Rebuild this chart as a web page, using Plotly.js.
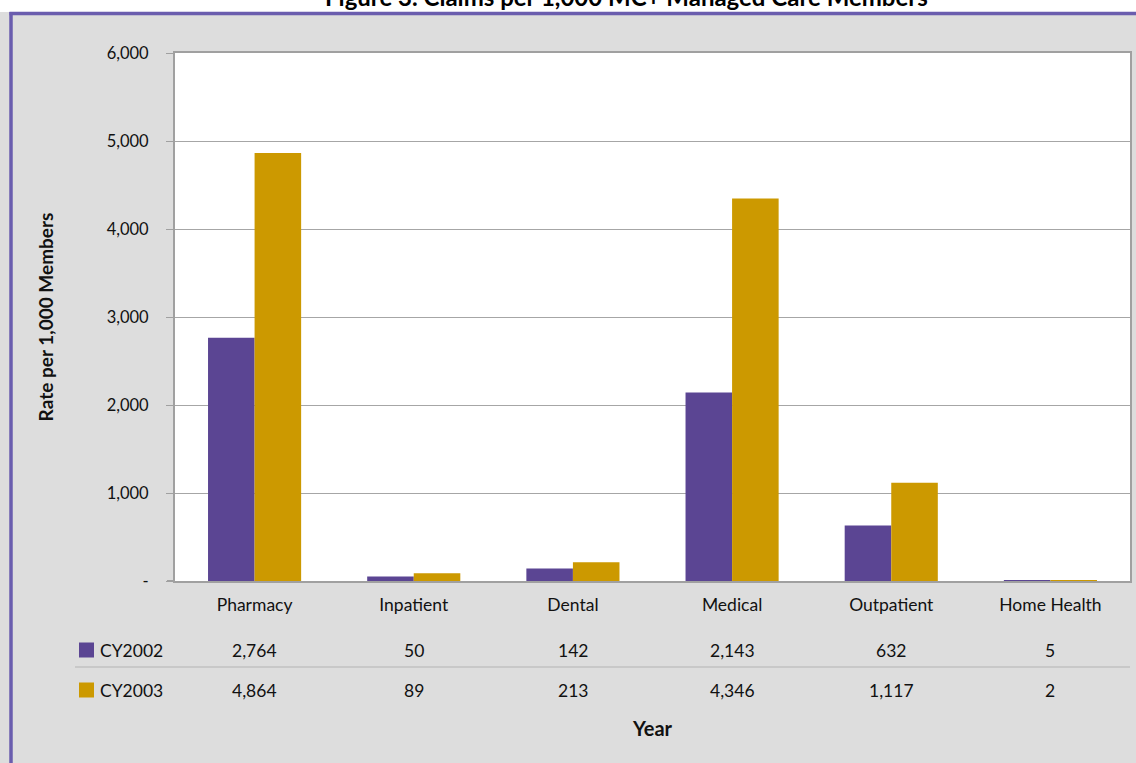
<!DOCTYPE html>
<html>
<head>
<meta charset="utf-8">
<script src="https://cdn.plot.ly/plotly-3.0.1.min.js"></script>
<style>html,body{margin:0;padding:0;background:#dddddd;}#chart{width:1136px;height:763px;}</style>
</head>
<body>
<div id="chart"></div>
<script>
// ---- data ----
const categories = ["Pharmacy", "Inpatient", "Dental", "Medical", "Outpatient", "Home Health"];
const seriesNames = ["CY2002", "CY2003"];
const cy2002 = [2764, 50, 142, 2143, 632, 5];
const cy2003 = [4864, 89, 213, 4346, 1117, 2];
const yTickVals = [0, 1000, 2000, 3000, 4000, 5000, 6000];
const yTickText = ["-", "1,000", "2,000", "3,000", "4,000", "5,000", "6,000"];
const titleText = "Figure 3. Claims per 1,000 MC+ Managed Care Members";

// ---- layout geometry (pixels) ----
const W = 1136, H = 763;
const L = 175, R = 1130, T = 53, B = 581;
const pw = R - L, ph = B - T;
const px = x => (x - L) / pw;
const py = y => (B - y) / ph;

const FONT = "Lato, 'Open Sans', sans-serif";
const colors = ["#5B4593", "#CC9900"];
const borderColor = "#6A5DAE";
const txt = "#111111";
const fmt = v => v.toLocaleString("en-US");

const traces = [cy2002, cy2003].map((vals, i) => ({
  type: "bar",
  name: seriesNames[i],
  x: categories,
  y: vals,
  marker: { color: colors[i] },
  showlegend: false,
  hoverinfo: "x+y+name"
}));

const annotations = [];
// title, cropped by the top edge as in the reference
annotations.push({
  text: "<b>" + titleText + "</b>",
  xref: "paper", yref: "paper",
  x: px(626), y: py(13), xanchor: "center", yanchor: "bottom",
  showarrow: false, font: { family: FONT, size: 24, color: "#000" }
});
// data table rows
const rowY = [650, 690];
[cy2002, cy2003].forEach((vals, r) => {
  annotations.push({
    text: seriesNames[r], xref: "paper", yref: "paper",
    x: px(98), y: py(rowY[r]), xanchor: "left", yanchor: "middle",
    showarrow: false, font: { family: FONT, size: 17.5, color: txt }
  });
  vals.forEach((v, c) => {
    annotations.push({
      text: fmt(v), xref: "x", yref: "paper",
      x: categories[c], y: py(rowY[r]), xanchor: "center", yanchor: "middle",
      showarrow: false, font: { family: FONT, size: 17.5, color: txt }
    });
  });
});

const shapes = [
  { type: "rect", xref: "paper", yref: "paper", x0: px(-10), x1: px(W + 10), y0: py(12), y1: py(-20),
    fillcolor: "#ffffff", line: { width: 0 }, layer: "below" },
  { type: "line", xref: "paper", yref: "paper", x0: px(9.5), x1: px(W + 10), y0: py(13.5), y1: py(13.5),
    line: { color: borderColor, width: 3.5 } },
  { type: "line", xref: "paper", yref: "paper", x0: px(11), x1: px(11), y0: py(12), y1: py(H + 10),
    line: { color: borderColor, width: 3.5 } },
  { type: "line", xref: "paper", yref: "paper", x0: px(75), x1: px(R), y0: py(667), y1: py(667),
    line: { color: "#b4b4b4", width: 1.2 } },
  { type: "line", xref: "paper", yref: "paper", x0: px(167), x1: px(L), y0: 0, y1: 0,
    line: { color: "#a0a0a0", width: 2 } }
];
colors.forEach((c, r) => {
  shapes.push({ type: "rect", xref: "paper", yref: "paper",
    x0: px(79), x1: px(94), y0: py(rowY[r] + 7.5), y1: py(rowY[r] - 7.5),
    fillcolor: c, line: { width: 0 } });
});

const layout = {
  width: W, height: H,
  margin: { l: L, r: W - R, t: T, b: H - B, pad: 0 },
  paper_bgcolor: "#dddddd",
  plot_bgcolor: "#ffffff",
  font: { family: FONT, size: 16, color: txt },
  barmode: "group",
  bargap: 0.415,
  bargroupgap: 0,
  showlegend: false,
  xaxis: {
    type: "category",
    showline: true, linecolor: "#a0a0a0", linewidth: 2, mirror: true,
    ticks: "", showgrid: false,
    tickfont: { family: FONT, size: 17.5, color: txt },
    ticklabelstandoff: 7,
    title: { text: "<b>Year</b>", font: { family: FONT, size: 20, color: txt }, standoff: 108 },
    automargin: false
  },
  yaxis: {
    range: [0, 6000],
    tickvals: yTickVals, ticktext: yTickText,
    showline: true, linecolor: "#a0a0a0", linewidth: 2, mirror: true,
    ticks: "outside", ticklen: 7, tickcolor: "#a0a0a0", tickwidth: 1,
    showgrid: true, gridcolor: "#a6a6a6", gridwidth: 1,
    zeroline: false,
    tickfont: { family: FONT, size: 16.5, color: txt },
    ticklabelstandoff: 14,
    title: { text: "<b>Rate per 1,000 Members</b>", font: { family: FONT, size: 19, color: txt }, standoff: 48 },
    automargin: false
  },
  annotations: annotations,
  shapes: shapes
};

Plotly.newPlot("chart", traces, layout, { displayModeBar: false });
</script>
</body>
</html>
